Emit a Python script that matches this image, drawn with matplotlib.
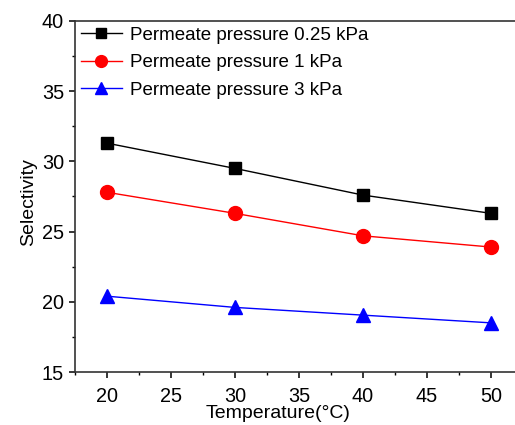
import matplotlib
matplotlib.use("Agg")
import matplotlib.pyplot as plt
from matplotlib.ticker import MultipleLocator

plt.rcParams['font.family'] = ['Liberation Sans', 'DejaVu Sans']

temperature = [20, 30, 40, 50]
sel_025kPa = [31.3, 29.5, 27.6, 26.3]
sel_1kPa = [27.8, 26.3, 24.7, 23.9]
sel_3kPa = [20.4, 19.6, 19.05, 18.5]
labels = ["Permeate pressure 0.25 kPa", "Permeate pressure 1 kPa", "Permeate pressure 3 kPa"]

fig = plt.figure(figsize=(5.15, 4.25), dpi=100)
ax = fig.add_axes([75/515, 53/425, 448/515, 351/425])

ax.plot(temperature, sel_025kPa, color='black', marker='s', markersize=9, lw=1.0, label=labels[0])
ax.plot(temperature, sel_1kPa, color='red', marker='o', markersize=10, lw=1.0, label=labels[1])
ax.plot(temperature, sel_3kPa, color='blue', marker='^', markersize=10.5, lw=1.0, label=labels[2])

ax.set_xlim(17.5, 52.5)
ax.set_ylim(15, 40)
ax.xaxis.set_major_locator(MultipleLocator(5))
ax.xaxis.set_minor_locator(MultipleLocator(2.5))
ax.yaxis.set_major_locator(MultipleLocator(5))
ax.yaxis.set_minor_locator(MultipleLocator(2.5))
ax.tick_params(which='major', direction='out', length=4, width=1.1, labelsize=14.3, colors='black', pad=4)
ax.tick_params(axis='x', which='major', pad=7)
ax.tick_params(which='minor', direction='out', length=2.5, width=1.0)
for s in ax.spines.values():
    s.set_linewidth(1.2)
    s.set_color('#333333')

fig.text(278/515, 1 - 413/425, 'Temperature(°C)', fontsize=14, ha='center', va='center')
ax.set_ylabel('Selectivity', fontsize=14, labelpad=2)
ax.yaxis.set_label_coords(-0.084, 0.485)

ax.legend(loc='upper left', frameon=False, fontsize=13.5, handlelength=2.2,
          borderaxespad=0.15, labelspacing=0.56, handletextpad=0.45, borderpad=0.15,
          markerscale=0.85)

fig.savefig('out.png', dpi=100)
